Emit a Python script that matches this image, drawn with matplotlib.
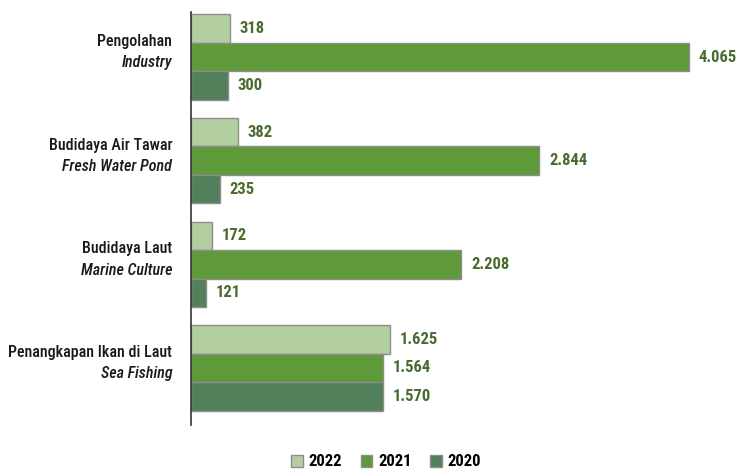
import matplotlib
matplotlib.use('Agg')
import matplotlib.pyplot as plt
from matplotlib.patches import Patch

plt.rcParams['font.family'] = ['Roboto Condensed', 'DejaVu Sans']

categories_id = ['Pengolahan', 'Budidaya Air Tawar', 'Budidaya Laut', 'Penangkapan Ikan di Laut']
categories_en = ['Industry', 'Fresh Water Pond', 'Marine Culture', 'Sea Fishing']
years = ['2022', '2021', '2020']
val_2022 = [318, 382, 172, 1625]
val_2021 = [4065, 2844, 2208, 1564]
val_2020 = [300, 235, 121, 1570]
colors = ['#b3cfa1', '#5e9a3a', '#52805a']
label_color = '#4a6b2e'


def fmt(v):
    return f'{v:,}'.replace(',', '.')


fig = plt.figure(figsize=(7.38, 4.72), dpi=100)
ax = fig.add_axes([191 / 738, 47 / 472, 539 / 738, 413 / 472])

h = 0.275
series = [val_2022, val_2021, val_2020]
for j, vals in enumerate(series):
    ys = [i + (j - 1) * h for i in range(len(vals))]
    ax.barh(ys, vals, height=h, color=colors[j], edgecolor='#8c8c8c', linewidth=1.0)
    for y, v in zip(ys, vals):
        ax.text(v + 80, y, fmt(v), va='center', ha='left', fontsize=12,
                fontweight='bold', color=label_color)

ax.set_xlim(0, 4400)
ax.set_ylim(3.55, -0.435)
for s in ['top', 'right', 'bottom']:
    ax.spines[s].set_visible(False)
ax.spines['left'].set_color('#333333')
ax.spines['left'].set_linewidth(1.2)
ax.set_xticks([])
ax.set_yticks([])

trans = ax.get_yaxis_transform()
for i, (a, b) in enumerate(zip(categories_id, categories_en)):
    ax.text(-0.035, i - 0.15, a, transform=trans, ha='right', va='center',
            fontsize=11.5, fontweight='medium', color='#1a1a1a')
    ax.text(-0.035, i + 0.055, b, transform=trans, ha='right', va='center',
            fontsize=11.5, fontweight='medium', style='italic', color='#1a1a1a')

handles = [Patch(facecolor=c, edgecolor='#8c8c8c', label=y) for c, y in zip(colors, years)]
fig.legend(handles=handles, loc='center', bbox_to_anchor=(386 / 738, 1 - 462 / 472),
           ncol=3, frameon=False, handlelength=0.7, handleheight=0.7,
           handletextpad=0.35, columnspacing=1.1,
           prop={'size': 12, 'weight': 'bold'})

fig.savefig('out.png', dpi=100)
